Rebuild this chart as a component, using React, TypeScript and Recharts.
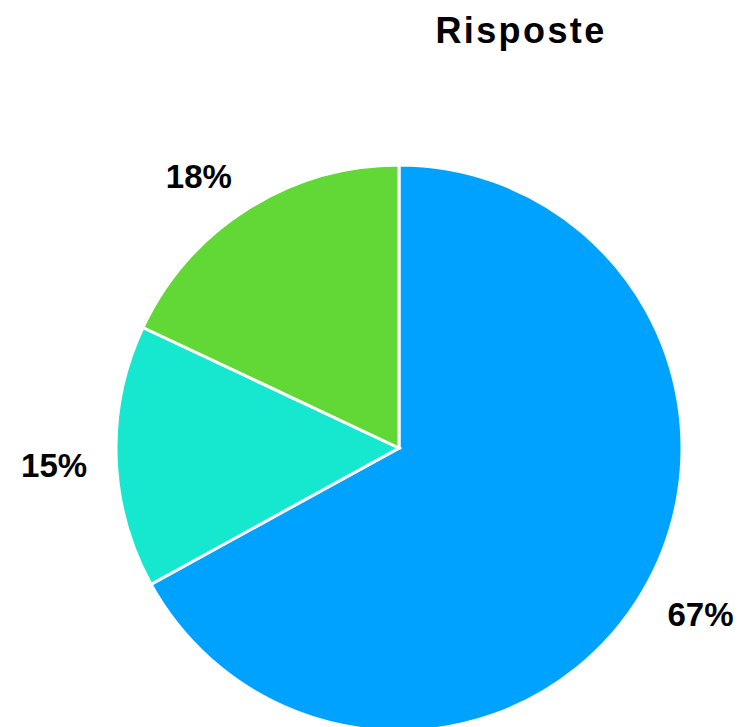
import { PieChart, Pie, Cell } from 'recharts';

const categories = ['A', 'B', 'C'];
const values = [67, 15, 18];
const colors = ['#00A2FF', '#16E7CF', '#61D836'];

const data = categories.map((name, i) => ({ name, value: values[i] }));

const RADIAN = Math.PI / 180;

// label box sits just outside the pie, its nearest corner on the ray through the slice middle
function renderLabel(props: any) {
  const { cx, cy, midAngle, outerRadius, value } = props;
  const r = outerRadius + 29;
  const cos = Math.cos(-midAngle * RADIAN);
  const sin = Math.sin(-midAngle * RADIAN);
  const ax = cx + r * cos;
  const ay = cy + r * sin;
  const x = ax + (cos >= 0 ? 33 : -33);
  const y = ay + (sin >= 0 ? 8 : -8);
  return (
    <text
      x={x}
      y={y}
      textAnchor="middle"
      dominantBaseline="central"
      fill="#000"
      fontSize={33}
      fontWeight="bold"
      fontFamily="'Liberation Sans', Arial, sans-serif"
    >
      {`${value}%`}
    </text>
  );
}

export default function App() {
  return (
    <div style={{ position: 'absolute', left: 0, top: 0, width: 742, height: 727, background: '#fff' }}>
      <PieChart width={742} height={727} margin={{ top: 0, right: 0, bottom: 0, left: 0 }}>
        <text
          x={521}
          y={43}
          textAnchor="middle"
          fontSize={36}
          fontWeight="bold"
          letterSpacing={2.4}
          fontFamily="'Liberation Sans', Arial, sans-serif"
          fill="#000"
        >
          Risposte
        </text>
        <Pie
          data={data}
          dataKey="value"
          nameKey="name"
          cx={399}
          cy={448}
          outerRadius={283}
          startAngle={90}
          endAngle={-270}
          stroke="#fff"
          strokeWidth={3}
          label={renderLabel}
          labelLine={false}
          isAnimationActive={false}
        >
          {data.map((d, i) => (
            <Cell key={d.name} fill={colors[i]} />
          ))}
        </Pie>
      </PieChart>
    </div>
  );
}
